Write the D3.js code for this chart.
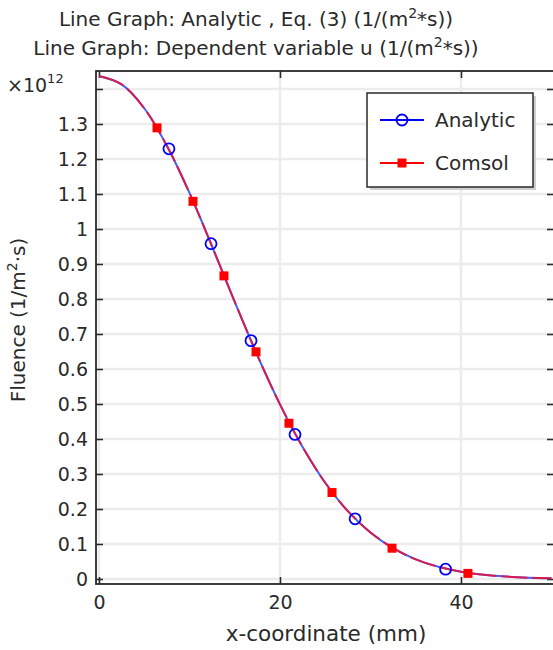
<!DOCTYPE html>
<html>
<head>
<meta charset="utf-8">
<script src="https://cdn.jsdelivr.net/npm/d3@7"></script>
<style>
  html, body { margin: 0; padding: 0; background: #fff; }
  svg { display: block; font-family: "DejaVu Sans", sans-serif; }
</style>
</head>
<body>
<svg id="chart" width="553" height="650"></svg>
<script>
// ---- data (values in units of 1e12 1/(m^2*s), x in mm) ----
const curveX = [0, 2.5, 5, 7.5, 10, 12.5, 15, 17.5, 20, 22.5, 25, 27.5, 30, 32.5, 35, 37.5, 40, 42.5, 45, 47.5, 50];
const analyticCurve = [1.437, 1.413, 1.345, 1.238, 1.103, 0.950, 0.792, 0.639, 0.499, 0.377, 0.275, 0.194, 0.133, 0.088, 0.056, 0.035, 0.021, 0.012, 0.0068, 0.0037, 0.0019];
const comsolCurve   = [1.437, 1.413, 1.345, 1.238, 1.103, 0.950, 0.792, 0.639, 0.499, 0.377, 0.275, 0.194, 0.133, 0.088, 0.056, 0.035, 0.021, 0.012, 0.0068, 0.0037, 0.0019];
const analyticMarkerX = [7.73, 12.38, 16.8, 21.66, 28.3, 38.3];
const analyticMarkerY = [1.229, 0.958, 0.681, 0.413, 0.172, 0.028];
const comsolMarkerX = [6.41, 10.39, 13.81, 17.35, 20.99, 25.75, 32.38, 40.77];
const comsolMarkerY = [1.289, 1.079, 0.866, 0.649, 0.445, 0.247, 0.088, 0.016];
const xTicks = [0, 20, 40];
const xTickLabels = ["0", "20", "40"];
const yTicks = [0, 0.1, 0.2, 0.3, 0.4, 0.5, 0.6, 0.7, 0.8, 0.9, 1.0, 1.1, 1.2, 1.3, 1.4];
const yTickLabels = ["0", "0.1", "0.2", "0.3", "0.4", "0.5", "0.6", "0.7", "0.8", "0.9", "1", "1.1", "1.2", "1.3", ""];
const seriesNames = ["Analytic", "Comsol"];
const seriesColors = ["#0000ff", "#ff0000"];

// ---- layout ----
const L = 96, T = 71, R = 554, B = 584;
const svg = d3.select("#chart");
const x = d3.scaleLinear().domain([-0.33, 50.28]).range([L, R]);
const y = d3.scaleLinear().domain([-0.0143, 1.4514]).range([B, T]);
const axisColor = "#2a2a2a";
const textColor = "#2a2a2a";

// grid
const grid = svg.append("g");
grid.selectAll("line.gx").data(xTicks).join("line")
  .attr("x1", d => x(d)).attr("x2", d => x(d)).attr("y1", T).attr("y2", B)
  .attr("stroke", "#ececec").attr("stroke-width", 2.5);
grid.selectAll("line.gy").data(yTicks).join("line")
  .attr("x1", L).attr("x2", R).attr("y1", d => y(d)).attr("y2", d => y(d))
  .attr("stroke", "#ececec").attr("stroke-width", 2.5);

// axes using d3 axis generators (inward ticks)
function styleAxis(g) {
  g.select(".domain").remove();
  g.selectAll(".tick line").attr("stroke", axisColor).attr("stroke-width", 1.6);
  g.selectAll(".tick text").attr("fill", textColor).style("font-size", "19px").style("font-family", "DejaVu Sans");
}
const leftAxis = d3.axisLeft(y).tickValues(yTicks).tickSizeInner(-7).tickSizeOuter(0).tickPadding(15)
  .tickFormat((d, i) => yTickLabels[i]);
svg.append("g").attr("transform", `translate(${L},0)`).call(leftAxis).call(styleAxis)
  .selectAll(".tick text").attr("x", -8);
const rightAxis = d3.axisRight(y).tickValues(yTicks).tickSizeInner(-7).tickSizeOuter(0).tickFormat("");
svg.append("g").attr("transform", `translate(${R},0)`).call(rightAxis).call(styleAxis);
const bottomAxis = d3.axisBottom(x).tickValues(xTicks).tickSizeInner(-7).tickSizeOuter(0)
  .tickFormat((d, i) => xTickLabels[i]);
const bAx = svg.append("g").attr("transform", `translate(0,${B})`).call(bottomAxis).call(styleAxis);
bAx.selectAll(".tick text").attr("y", 12).attr("dy", "0.71em");
const topAxis = d3.axisTop(x).tickValues(xTicks).tickSizeInner(-7).tickSizeOuter(0).tickFormat("");
svg.append("g").attr("transform", `translate(0,${T})`).call(topAxis).call(styleAxis);

// frame
svg.append("rect").attr("x", L).attr("y", T).attr("width", R - L).attr("height", B - T)
  .attr("fill", "none").attr("stroke", axisColor).attr("stroke-width", 1.8);

// curves
const clipId = "plotclip";
svg.append("clipPath").attr("id", clipId).append("rect")
  .attr("x", L).attr("y", T).attr("width", R - L).attr("height", B - T);
const plot = svg.append("g").attr("clip-path", `url(#${clipId})`);
const line = d3.line().x(d => x(d[0])).y(d => y(d[1])).curve(d3.curveCatmullRom.alpha(0.5));
plot.append("path").datum(curveX.map((v, i) => [v, analyticCurve[i]]))
  .attr("d", line).attr("fill", "none").attr("stroke", "#4060ff").attr("stroke-width", 2);
plot.append("path").datum(curveX.map((v, i) => [v, comsolCurve[i]]))
  .attr("d", line).attr("fill", "none").attr("stroke", "#e8103c").attr("stroke-opacity", 0.88)
  .attr("stroke-width", 2).attr("stroke-dasharray", "26 5");

// markers
plot.selectAll("circle.am").data(analyticMarkerX).join("circle")
  .attr("cx", d => x(d)).attr("cy", (d, i) => y(analyticMarkerY[i])).attr("r", 5.5)
  .attr("fill", "none").attr("stroke", seriesColors[0]).attr("stroke-width", 1.8);
plot.selectAll("rect.cm").data(comsolMarkerX).join("rect")
  .attr("x", d => x(d) - 4.5).attr("y", (d, i) => y(comsolMarkerY[i]) - 4.5)
  .attr("width", 9).attr("height", 9).attr("fill", seriesColors[1]);

// legend
const lg = svg.append("g");
lg.append("rect").attr("x", 370).attr("y", 96).attr("width", 166).attr("height", 94).attr("fill", "#cfcfcf");
lg.append("rect").attr("x", 367).attr("y", 93).attr("width", 166).attr("height", 94)
  .attr("fill", "#fff").attr("stroke", axisColor).attr("stroke-width", 1.5);
const legY = [120, 163];
seriesNames.forEach((name, i) => {
  lg.append("line").attr("x1", 380).attr("x2", 424).attr("y1", legY[i]).attr("y2", legY[i])
    .attr("stroke", seriesColors[i]).attr("stroke-width", 2);
  if (i === 0) {
    lg.append("circle").attr("cx", 402).attr("cy", legY[i]).attr("r", 5.5)
      .attr("fill", "none").attr("stroke", seriesColors[i]).attr("stroke-width", 1.8);
  } else {
    lg.append("rect").attr("x", 397.5).attr("y", legY[i] - 4.5).attr("width", 9).attr("height", 9)
      .attr("fill", seriesColors[i]);
  }
  lg.append("text").attr("x", 435).attr("y", legY[i]).attr("dy", "0.36em")
    .attr("fill", textColor).style("font-size", "20px").text(name);
});

// exponent label
const ex = svg.append("text").attr("x", 7).attr("y", 92).attr("fill", textColor).style("font-size", "19px");
ex.append("tspan").text("×10");
ex.append("tspan").attr("dy", -9).style("font-size", "13px").text("12");

// titles
function supText(sel, before, sup, after, fs) {
  sel.append("tspan").text(before);
  sel.append("tspan").attr("dy", -8).style("font-size", (fs * 0.7) + "px").text(sup);
  sel.append("tspan").attr("dy", 8).text(after);
}
const t1 = svg.append("text").attr("x", 256).attr("y", 26).attr("text-anchor", "middle")
  .attr("fill", textColor).style("font-size", "20px");
supText(t1, "Line Graph: Analytic , Eq. (3) (1/(m", "2", "*s))", 20);
const t2 = svg.append("text").attr("x", 256).attr("y", 55).attr("text-anchor", "middle")
  .attr("fill", textColor).style("font-size", "20px");
supText(t2, "Line Graph: Dependent variable u (1/(m", "2", "*s))", 20);

// axis titles
svg.append("text").attr("x", (L + R) / 2 + 1).attr("y", 641).attr("text-anchor", "middle")
  .attr("fill", textColor).style("font-size", "21.5px").text("x-coordinate (mm)");
const yl = svg.append("text").attr("transform", "translate(25,320) rotate(-90)").attr("text-anchor", "middle")
  .attr("fill", textColor).style("font-size", "20px");
supText(yl, "Fluence (1/m", "2", "·s)", 20);
</script>
</body>
</html>
